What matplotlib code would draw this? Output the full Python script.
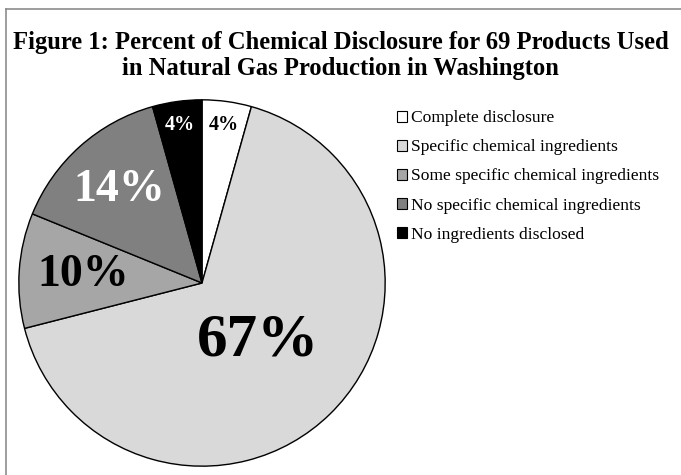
#!/usr/bin/env python3
"""Pie chart of chemical disclosure for 69 natural gas products."""

import matplotlib

matplotlib.use("Agg")
import matplotlib.pyplot as plt
from matplotlib.lines import Line2D
from matplotlib.patches import Patch
import numpy as np

categories = [
    "Complete disclosure",
    "Specific chemical ingredients",
    "Some specific chemical ingredients",
    "No specific chemical ingredients",
    "No ingredients disclosed",
]
product_counts = [3, 46, 7, 10, 3]
slice_labels = ["4%", "67%", "10%", "14%", "4%"]

colors = ["#ffffff", "#d9d9d9", "#a6a6a6", "#808080", "#000000"]
label_colors = ["black", "black", "black", "white", "white"]
label_sizes = [14.5, 44, 33, 33, 14.5]
label_dist = [0.87, 0.44, 0.65, 0.68, 0.87]

plt.rcParams["font.family"] = ["Liberation Serif", "DejaVu Serif"]

fig = plt.figure(figsize=(6.81, 4.75), dpi=100)

# outer frame (top and left edges visible)
fig.add_artist(Line2D([6 / 681, 1.0], [1 - 9 / 475, 1 - 9 / 475], color="#8c8c8c", lw=1.2))
fig.add_artist(Line2D([6 / 681, 6 / 681], [0.0, 1 - 9 / 475], color="#8c8c8c", lw=1.2))

fig.text(0.5, 1 - 42 / 475, "Figure 1: Percent of Chemical Disclosure for 69 Products Used",
         ha="center", va="center", fontsize=17.7, fontweight="bold")
fig.text(0.5, 1 - 69 / 475, "in Natural Gas Production in Washington",
         ha="center", va="center", fontsize=17.7, fontweight="bold")

cx, cy, r = 202, 283, 185
ax = fig.add_axes([(cx - r) / 681, (475 - cy - r) / 475, 2 * r / 681, 2 * r / 475])
wedges, _ = ax.pie(
    product_counts,
    colors=colors,
    startangle=90,
    counterclock=False,
    radius=1.0,
    wedgeprops={"edgecolor": "black", "linewidth": 1.0},
)
ax.set_xlim(-1.01, 1.01)
ax.set_ylim(-1.01, 1.01)
ax.set_aspect("auto")
ax.axis("off")

for w, text, col, size, dist in zip(wedges, slice_labels, label_colors, label_sizes, label_dist):
    mid = np.deg2rad((w.theta1 + w.theta2) / 2)
    ax.text(dist * np.cos(mid), dist * np.sin(mid), text, ha="center", va="center",
            color=col, fontsize=size, fontweight="bold")

handles = [Patch(facecolor=c, edgecolor="black", linewidth=0.8) for c in colors]
fig.legend(
    handles,
    categories,
    loc="upper left",
    bbox_to_anchor=(385 / 681, 1 - 98 / 475),
    frameon=False,
    fontsize=12.6,
    handlelength=0.58,
    handleheight=0.58,
    handletextpad=0.18,
    labelspacing=0.75,
    borderpad=0.2,
)

fig.savefig("out.png", dpi=100)
